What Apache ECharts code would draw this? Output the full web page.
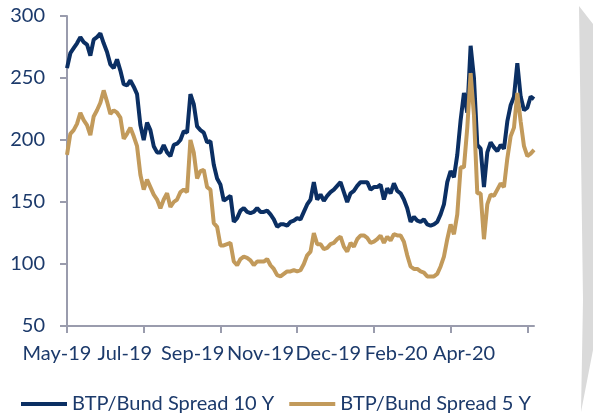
<!DOCTYPE html>
<html>
<head>
<meta charset="utf-8">
<script src="https://cdn.jsdelivr.net/npm/echarts@6/dist/echarts.min.js"></script>
<style>
  html, body { margin: 0; padding: 0; background: #fff; }
  #main { width: 593px; height: 415px; }
</style>
</head>
<body>
<div id="main"></div>
<script>
// BTP/Bund spreads (bp), roughly every 2 trading days, May-19 .. Apr-20
var spread10y = [
    258, 270, 274, 278, 283, 279, 277, 268, 281, 283,
    286, 278, 271, 261, 258, 265, 256, 245, 244, 248,
    243, 237, 212, 200, 214, 208, 195, 190, 190, 196,
    190, 187, 196, 197, 200, 207, 206, 237, 229, 211,
    208, 206, 198, 199, 180, 169, 164, 151, 153, 155,
    134, 137, 143, 145, 142, 141, 142, 145, 142, 142,
    143, 140, 136, 130, 132, 132, 131, 134, 135, 137,
    136, 142, 148, 152, 166, 152, 156, 151, 155, 158,
    160, 163, 166, 158, 150, 157, 159, 163, 166, 166,
    166, 160, 162, 162, 164, 152, 161, 157, 165, 159,
    157, 152, 145, 134, 138, 135, 134, 136, 132, 131,
    132, 134, 140, 148, 166, 175, 170, 188, 216, 238,
    222, 276, 250, 196, 193, 162, 190, 198, 194, 191,
    196, 193, 215, 228, 235, 262, 235, 224, 226, 235,
    233
];
var spread5y = [
    188, 205, 208, 213, 222, 216, 212, 204, 219, 224,
    230, 240, 231, 221, 224, 222, 218, 201, 205, 210,
    203, 195, 172, 160, 168, 162, 156, 152, 145, 152,
    157, 146, 150, 152, 158, 160, 158, 200, 190, 169,
    175, 176, 162, 160, 133, 130, 115, 115, 116, 117,
    102, 99, 104, 106, 105, 103, 99, 102, 102, 102,
    104, 99, 96, 91, 90, 92, 94, 94, 95, 94,
    95, 100, 107, 110, 125, 116, 116, 112, 113, 116,
    117, 120, 122, 114, 110, 117, 114, 120, 123, 123,
    121, 117, 118, 120, 123, 117, 122, 119, 124, 123,
    123, 118, 107, 98, 96, 96, 94, 93, 90, 90,
    90, 92, 98, 106, 120, 132, 124, 140, 178, 178,
    210, 254, 220, 157, 157, 120, 148, 156, 155, 160,
    165, 162, 185, 203, 210, 238, 215, 195, 187, 189,
    192
];
var tickLabels = ['May-19', 'Jul-19', 'Sep-19', 'Nov-19', 'Dec-19', 'Feb-20', 'Apr-20'];
var seriesNames = ['BTP/Bund Spread 10 Y', 'BTP/Bund Spread 5 Y'];

var days = spread10y.map(function (v, i) { return i; });
var navy = '#0B2F63';
var gold = '#C29A5B';
var textColor = '#1C3A6B';
var axisGray = '#9A9CAD';
var font = 'Lato';

var chart = echarts.init(document.getElementById('main'));
chart.setOption({
    animation: false,
    color: [navy, gold],
    textStyle: { fontFamily: font },
    legend: {
        left: 21,
        top: 394,
        padding: 0,
        itemWidth: 46,
        itemHeight: 4,
        itemGap: 15,
        icon: 'rect',
        textStyle: { color: textColor, fontSize: 20, fontFamily: font },
        data: seriesNames
    },
    grid: [
        { left: 67, top: 16, right: 59, bottom: 89 },
        { left: 57, top: 16, width: 407, bottom: 89 }
    ],
    xAxis: [
        {
            type: 'category',
            gridIndex: 0,
            data: days,
            boundaryGap: false,
            axisLine: { lineStyle: { color: axisGray, width: 2 } },
            axisTick: { interval: 22, length: 7, lineStyle: { color: axisGray, width: 2 } },
            axisLabel: { show: false }
        },
        {
            type: 'category',
            gridIndex: 1,
            data: tickLabels,
            boundaryGap: false,
            axisLine: { show: false },
            axisTick: { show: false },
            axisLabel: { interval: 0, margin: 18, color: textColor, fontSize: 20, fontFamily: font }
        }
    ],
    yAxis: [
        {
            type: 'value',
            gridIndex: 0,
            min: 50,
            max: 300,
            interval: 50,
            splitLine: { show: false },
            axisLine: { show: true, lineStyle: { color: axisGray, width: 2 } },
            axisTick: { show: true, length: 7, lineStyle: { color: axisGray, width: 2 } },
            axisLabel: { margin: 22, color: textColor, fontSize: 20, fontFamily: font }
        },
        { type: 'value', gridIndex: 1, show: false }
    ],
    graphic: [
        {
            type: 'polygon',
            shape: { points: [[579, 6], [593, 24], [593, 350], [581, 412], [583, 300]] },
            style: { fill: '#DADADA' },
            silent: true
        }
    ],
    series: [
        {
            name: seriesNames[0],
            type: 'line',
            xAxisIndex: 0,
            yAxisIndex: 0,
            data: spread10y,
            showSymbol: false,
            lineStyle: { width: 4, color: navy }
        },
        {
            name: seriesNames[1],
            type: 'line',
            xAxisIndex: 0,
            yAxisIndex: 0,
            data: spread5y,
            showSymbol: false,
            lineStyle: { width: 4, color: gold }
        }
    ]
});
</script>
</body>
</html>
